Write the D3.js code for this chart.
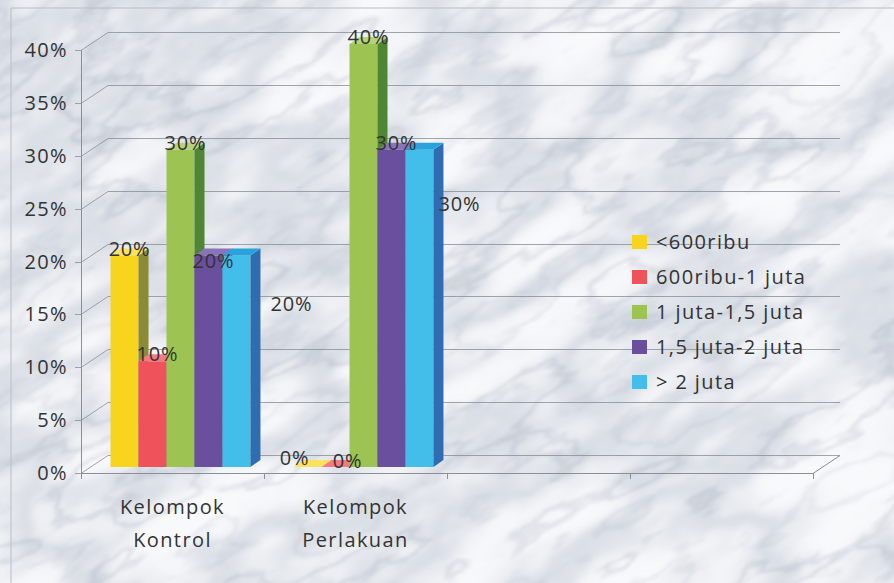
<!DOCTYPE html>
<html>
<head>
<meta charset="utf-8">
<script src="https://cdn.jsdelivr.net/npm/d3@7/dist/d3.min.js"></script>
<style>
  html, body { margin: 0; padding: 0; background: #fff; }
  svg { display: block; }
  text { font-family: "Open Sans", "DejaVu Sans", sans-serif; fill: #333; }
</style>
</head>
<body>
<svg id="chart" width="894" height="583"></svg>
<script>
// ---- data ----
const categories = ["Kelompok Kontrol", "Kelompok Perlakuan"];
const categoryLines = [["Kelompok", "Kontrol"], ["Kelompok", "Perlakuan"]];
const seriesNames = ["<600ribu", "600ribu-1 juta", "1 juta-1,5 juta", "1,5 juta-2 juta", "> 2 juta"];
const kontrolValues = [20, 10, 30, 20, 20];
const perlakuanValues = [0, 0, 40, 30, 30];
const yTickValues = [0, 5, 10, 15, 20, 25, 30, 35, 40];

// ---- styling ----
const frontColors = ["#f8d41c", "#f0525c", "#9dc452", "#6a4f9f", "#43bde9"];
const sideColors  = ["#8c8a36", "#a9363f", "#4f8634", "#45336f", "#2f6db0"];
const topColors   = ["#fbe25c", "#f37a82", "#b6d37a", "#8a73b9", "#2aa3dd"];

const svg = d3.select("#chart");
const W = 894, H = 583;

// marble texture: soft cloudy patches plus a few faint veins
const defs = svg.append("defs");
function marbleFilter(id, freq, seed, table, color, blur) {
  const f = defs.append("filter").attr("id", id)
    .attr("x", 0).attr("y", 0).attr("width", 1).attr("height", 1);
  f.append("feTurbulence").attr("type", "fractalNoise")
    .attr("baseFrequency", freq).attr("numOctaves", 5).attr("seed", seed).attr("result", "noise");
  f.append("feColorMatrix").attr("in", "noise").attr("type", "matrix")
    .attr("values", "0 0 0 0 0  0 0 0 0 0  0 0 0 0 0  1 0 0 0 0").attr("result", "a");
  f.append("feComponentTransfer").attr("in", "a").attr("result", "veins")
    .append("feFuncA").attr("type", "table").attr("tableValues", table);
  f.append("feFlood").attr("flood-color", color).attr("result", "col");
  f.append("feComposite").attr("in", "col").attr("in2", "veins").attr("operator", "in").attr("result", "v");
  f.append("feGaussianBlur").attr("in", "v").attr("stdDeviation", blur);
}
marbleFilter("clouds", "0.005 0.012", 4,
  "0 0 0 0 0.05 0.16 0.32 0.22 0.08 0.02 0 0 0", "#97a3b6", 2.5);
marbleFilter("veins", "0.006 0.016", 23,
  "0 0 0 0 0 0 0.02 0.2 0.02 0 0 0 0.12 0.02 0 0 0 0 0 0", "#7d8aa0", 1.2);

svg.append("rect").attr("width", W).attr("height", H).attr("fill", "#f8f9fb");
const tex = svg.append("g").attr("transform", `rotate(-30 ${W / 2} ${H / 2})`);
["clouds", "veins"].forEach(id => {
  tex.append("rect")
    .attr("x", -400).attr("y", -400).attr("width", W + 800).attr("height", H + 800)
    .attr("fill", "#fff").attr("filter", `url(#${id})`);
});

// chart border
svg.append("path").attr("d", `M11,${H} L11,8 L${W},8`)
  .attr("fill", "none").attr("stroke", "#b9bec6").attr("stroke-width", 1);

// ---- scales ----
const frontX0 = 81, frontX1 = 813;
const back = { x: 27, y: -18 };          // wall depth
const y = d3.scaleLinear().domain([0, 40]).range([473, 50]);
const slotW = (frontX1 - frontX0) / 4;
const x = d3.scaleBand().domain(categories)
  .range([frontX0, frontX0 + slotW * categories.length]).padding(0);
const xs = d3.scaleBand().domain(seriesNames).range([0, x.bandwidth()])
  .paddingInner(0).paddingOuter(0.77);
const barShift = { x: 8, y: -6 };         // bars sit slightly behind the front edge
const depth = { x: 10, y: -7 };           // bar thickness in the 3D view

const gridColor = "#8a9098";
const grid = svg.append("g").attr("stroke", gridColor).attr("stroke-width", 1).attr("fill", "none");

// back-wall gridlines + side-wall diagonals + ticks
yTickValues.forEach(v => {
  const yy = Math.round(y(v)) + 0.5;
  grid.append("path").attr("d",
    `M${frontX0 - 6},${yy} L${frontX0},${yy} L${frontX0 + back.x},${yy + back.y} L${frontX1 + back.x},${yy + back.y}`)
    .attr("opacity", 0.8);
});
// y axis line and floor front edge
grid.append("path").attr("d",
  `M${frontX0 + 0.5},${y(40)} L${frontX0 + 0.5},${y(0) + 0.5} L${frontX1},${y(0) + 0.5} L${frontX1 + back.x},${y(0) + 0.5 + back.y}`);
// category ticks
d3.range(5).forEach(i => {
  const xx = Math.round(frontX0 + i * slotW) + 0.5;
  grid.append("line").attr("x1", xx).attr("x2", xx).attr("y1", y(0)).attr("y2", y(0) + 6);
});

// y tick labels
svg.append("g").selectAll("text").data(yTickValues).join("text")
  .attr("x", 68).attr("y", d => y(d) + 7)
  .attr("text-anchor", "end")
  .attr("font-size", 20).attr("letter-spacing", 1.4)
  .text(d => d + "%");

// category labels
const catG = svg.append("g");
categories.forEach((c, i) => {
  const cx = x(c) + x.bandwidth() / 2;
  categoryLines[i].forEach((line, j) => {
    catG.append("text").attr("x", cx).attr("y", 514 + j * 33)
      .attr("text-anchor", "middle").attr("font-size", 20).attr("letter-spacing", 1.4)
      .text(line);
  });
});

// ---- bars ----
const groupValues = [kontrolValues, perlakuanValues];
const barsG = svg.append("g");
const bars = [];
groupValues.forEach((vals, gi) => {
  vals.forEach((v, si) => {
    const x0 = x(categories[gi]) + xs(seriesNames[si]) + barShift.x;
    const x1 = x0 + xs.bandwidth();
    const yb = y(0) + barShift.y;
    const yt = y(v) + barShift.y;
    bars.push({ gi, si, v, x0, x1, yb, yt });
    const g = barsG.append("g");
    // front face
    g.append("rect").attr("x", x0).attr("y", yt).attr("width", x1 - x0).attr("height", yb - yt)
      .attr("fill", frontColors[si]);
    // side face
    g.append("path").attr("d",
      `M${x1},${yb} L${x1},${yt} L${x1 + depth.x},${yt + depth.y} L${x1 + depth.x},${yb + depth.y} Z`)
      .attr("fill", sideColors[si]);
    // top face
    g.append("path").attr("d",
      `M${x0},${yt} L${x1},${yt} L${x1 + depth.x},${yt + depth.y} L${x0 + depth.x},${yt + depth.y} Z`)
      .attr("fill", topColors[si]);
  });
});

// ---- value labels ----
// label offsets from the top of each bar's front face
const defaultNudge = [5, -7];
const labelNudge = {
  "0-3": [5, 5],
  "0-4": [55, 48],
  "1-0": [-13, -9],
  "1-1": [12, -6],
  "1-4": [40, 54]
};
svg.append("g").selectAll("text").data(bars).join("text")
  .attr("x", d => (d.x0 + d.x1) / 2 + (labelNudge[d.gi + "-" + d.si] || defaultNudge)[0])
  .attr("y", d => d.yt + (labelNudge[d.gi + "-" + d.si] || defaultNudge)[1] + 7)
  .attr("text-anchor", "middle")
  .attr("font-size", 20).attr("letter-spacing", 0.8)
  .text(d => d.v + "%");

// ---- legend ----
const legend = svg.append("g").attr("transform", "translate(632,242)");
seriesNames.forEach((s, i) => {
  const row = legend.append("g").attr("transform", `translate(0,${i * 35})`);
  row.append("rect").attr("x", 0).attr("y", -7).attr("width", 15).attr("height", 14)
    .attr("fill", frontColors[i]);
  row.append("text").attr("x", 24).attr("y", 7)
    .attr("font-size", 20).attr("letter-spacing", 1.4)
    .text(s);
});
</script>
</body>
</html>
